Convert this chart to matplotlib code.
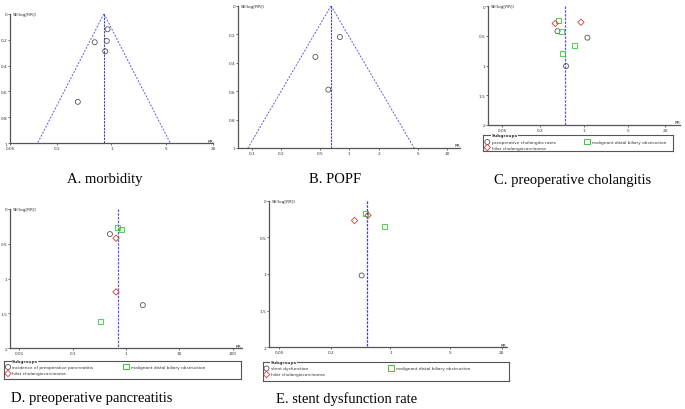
import numpy as np
import matplotlib
matplotlib.use("Agg")
import matplotlib.pyplot as plt
from matplotlib.ticker import NullLocator

W, H = 685, 410

# ---- data (RR, SE(log RR)) ----
a_rr = [0.89, 0.61, 0.87, 0.83, 0.37]
a_se = [0.12, 0.22, 0.21, 0.29, 0.68]
a_pool = 0.80

b_rr = [0.80, 0.45, 0.61]
b_se = [0.22, 0.36, 0.59]
b_pool = 0.65

c_circ_rr = [0.38, 1.14, 0.52]
c_circ_se = [0.42, 0.53, 1.01]
c_sq_rr = [0.40, 0.44, 0.71, 0.45]
c_sq_se = [0.24, 0.42, 0.67, 0.79]
c_dia_rr = [0.35, 0.90]
c_dia_se = [0.29, 0.27]
c_pool = 0.51

d_circ_rr = [0.50, 2.07]
d_circ_se = [0.36, 1.38]
d_sq_rr = [0.69, 0.82, 0.33]
d_sq_se = [0.26, 0.30, 1.61]
d_dia_rr = [0.65, 0.65]
d_dia_se = [0.42, 1.19]
d_pool = 0.70

e_circ_rr = [0.46]
e_circ_se = [1.02]
e_sq_rr = [0.51, 0.84]
e_sq_se = [0.18, 0.35]
e_dia_rr = [0.545, 0.38]
e_dia_se = [0.20, 0.27]
e_pool = 0.535

GRAY = "#555555"
BLUE = "#5a5ae0"
GREEN = "#33cc33"
RED = "#d03c3c"
TICK_FS = 3.1
MS = 13


def px_axes(x0, y0, x1, y1):
    return fig.add_axes([x0 / W, 1 - y1 / H, (x1 - x0) / W, (y1 - y0) / H])


def setup(ax, xlim, ymax, xticks, xlabels, yticks, ylabels):
    ax.set_xscale("log")
    ax.set_xlim(*xlim)
    ax.set_ylim(ymax, 0)
    for s in ("top", "right"):
        ax.spines[s].set_visible(False)
    for s in ("left", "bottom"):
        ax.spines[s].set_color(GRAY)
        ax.spines[s].set_linewidth(0.9)
    ax.set_xticks(xticks)
    ax.set_xticklabels(xlabels)
    ax.xaxis.set_minor_locator(NullLocator())
    ax.set_yticks(yticks)
    ax.set_yticklabels(ylabels)
    ax.tick_params(labelsize=TICK_FS, length=1.5, width=0.5, pad=0.6, colors="#333333")
    ax.patch.set_alpha(0)
    ax.text(0.012, 1.0, "SE(log[RR])", transform=ax.transAxes, fontsize=TICK_FS,
            va="center", ha="left", color="#333333")
    ax.text(1.0, 0.005, "RR", transform=ax.transAxes, fontsize=TICK_FS,
            va="bottom", ha="right", color="#333333")


def funnel(ax, pool, semax):
    se = np.array([0, semax])
    ax.plot(pool * np.exp(-1.96 * se), se, color=BLUE, lw=0.7, ls=(0, (2, 1.5)))
    ax.plot(pool * np.exp(1.96 * se), se, color=BLUE, lw=0.7, ls=(0, (2, 1.5)))
    ax.plot([pool, pool], [0, semax], color="#3a3ad0", lw=0.8, ls=(0, (2, 1)))


def vline(ax, pool, semax, color=BLUE):
    ax.plot([pool, pool], [0, semax], color=color, lw=0.9, ls=(0, (2, 1)), zorder=1)


def pts(ax, rr, se, marker, color):
    ax.scatter(rr, se, s=MS if marker != "D" else MS * 0.8, marker=marker,
               facecolors="none", edgecolors=color, linewidths=0.6, zorder=3)


def legend_box(x0, y0, x1, y1, circ_label, sq_x, rows):
    ax = px_axes(x0, y0, x1, y1)
    ax.set_xlim(x0, x1)
    ax.set_ylim(y1, y0)
    ax.set_xticks([])
    ax.set_yticks([])
    for s in ax.spines.values():
        s.set_color(GRAY)
        s.set_linewidth(0.8)
    ax.text(x0 + 8, y0, "Subgroups", fontsize=TICK_FS, va="center", ha="left",
            color="#333333", fontweight="bold",
            bbox=dict(facecolor="white", edgecolor="none", pad=0.1))
    r1, r2 = rows
    ax.scatter([x0 + 4], [r1], s=MS, marker="o", facecolors="none",
               edgecolors=GRAY, linewidths=0.6, clip_on=False)
    ax.text(x0 + 8.5, r1, circ_label, fontsize=TICK_FS, va="center", color="#333333")
    ax.scatter([x0 + 4], [r2], s=MS * 0.8, marker="D", facecolors="none",
               edgecolors=RED, linewidths=0.6, clip_on=False)
    ax.text(x0 + 8.5, r2, "hilar cholangiocarcinoma", fontsize=TICK_FS,
            va="center", color="#333333")
    ax.scatter([sq_x], [r1 - 0.5], s=MS * 1.3, marker="s", facecolors="none",
               edgecolors=GREEN, linewidths=0.7, clip_on=False)
    ax.text(sq_x + 5, r1, "malignant distal biliary obstruction", fontsize=TICK_FS,
            va="center", color="#333333")


fig = plt.figure(figsize=(W / 100, H / 100), dpi=100)

lab_se1 = [0, 0.2, 0.4, 0.6, 0.8, 1]
lab_se2 = [0, 0.5, 1, 1.5, 2]

# A. morbidity
axA = px_axes(10, 14.7, 213, 144.3)
setup(axA, (0.05, 20), 1, [0.05, 0.2, 1, 5, 20], ["0.05", "0.2", "1", "5", "20"],
      lab_se1, [f"{v:g}" for v in lab_se1])
funnel(axA, a_pool, 1)
pts(axA, a_rr, a_se, "o", GRAY)

# B. POPF
axB = px_axes(238.3, 6.7, 460, 149)
setup(axB, (0.073, 13.6), 1, [0.1, 0.2, 0.5, 1, 2, 5, 10],
      ["0.1", "0.2", "0.5", "1", "2", "5", "10"],
      lab_se1, [f"{v:g}" for v in lab_se1])
funnel(axB, b_pool, 1)
pts(axB, b_rr, b_se, "o", GRAY)

# C. preoperative cholangitis
axC = px_axes(488.3, 7.3, 680, 125.7)
setup(axC, (10 ** -1.525, 10 ** 1.536), 2, [0.05, 0.2, 1, 5, 20],
      ["0.05", "0.2", "1", "5", "20"], lab_se2, [f"{v:g}" for v in lab_se2])
vline(axC, c_pool, 2)
pts(axC, c_circ_rr, c_circ_se, "o", GRAY)
pts(axC, c_sq_rr, c_sq_se, "s", GREEN)
pts(axC, c_dia_rr, c_dia_se, "D", RED)
legend_box(483.3, 136, 673.3, 152, "preoperative cholangitis rates", 586.7,
           (143.0, 148.5))

# D. preoperative pancreatitis
axD = px_axes(10, 210, 241.7, 349.3)
setup(axD, (10 ** -2.175, 10 ** 2.17), 2, [0.01, 0.1, 1, 10, 100],
      ["0.01", "0.1", "1", "10", "100"], lab_se2, [f"{v:g}" for v in lab_se2])
vline(axD, d_pool, 2)
pts(axD, d_circ_rr, d_circ_se, "o", GRAY)
pts(axD, d_sq_rr, d_sq_se, "s", GREEN)
pts(axD, d_dia_rr, d_dia_se, "D", RED)
legend_box(4, 361.7, 240.7, 380, "incidence of preoperative pancreatitis", 126,
           (368.0, 374.5))

# E. stent dysfunction rate
axE = px_axes(269.3, 201.7, 506.7, 348.3)
setup(axE, (10 ** -1.418, 10 ** 1.36), 2, [0.05, 0.2, 1, 5, 20],
      ["0.05", "0.2", "1", "5", "20"], lab_se2, [f"{v:g}" for v in lab_se2])
vline(axE, e_pool, 2, color="#3a3ad0")
pts(axE, e_circ_rr, e_circ_se, "o", GRAY)
pts(axE, e_sq_rr, e_sq_se, "s", GREEN)
pts(axE, e_dia_rr, e_dia_se, "D", RED)
legend_box(262.5, 363, 509, 381.7, "stent dysfunction", 390.7, (369.5, 375.5))

# captions
cap = dict(fontsize=10.5, family="Liberation Serif", ha="center", va="center")
fig.text(105 / W, 1 - 180 / H, "A. morbidity", **cap)
fig.text(335 / W, 1 - 180 / H, "B. POPF", **cap)
fig.text(573 / W, 1 - 181 / H, "C. preoperative cholangitis", **cap)
fig.text(92 / W, 1 - 399 / H, "D. preoperative pancreatitis", **cap)
fig.text(347 / W, 1 - 399 / H, "E. stent dysfunction rate", **cap)

fig.savefig("out.png", dpi=100)
